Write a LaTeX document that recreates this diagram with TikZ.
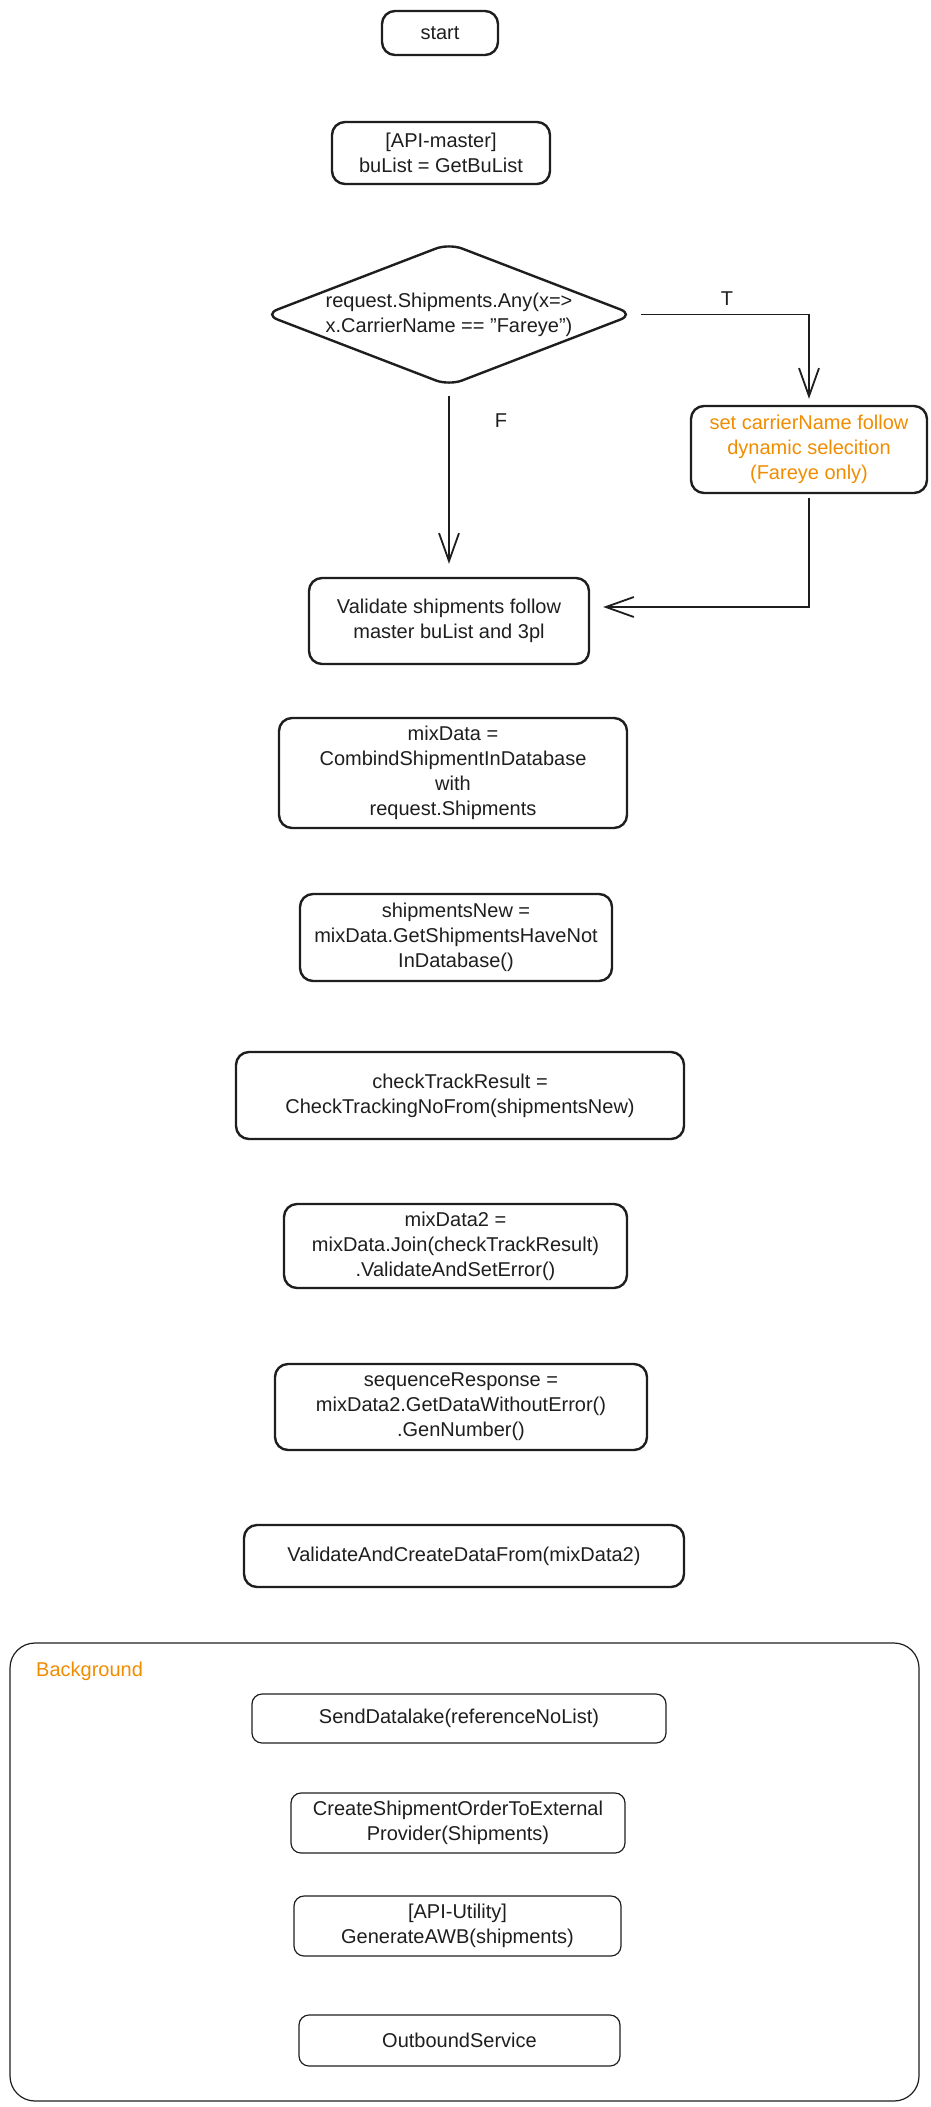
\documentclass[tikz,border=0pt]{standalone}
\usepackage{fontspec}
\setmainfont{Liberation Sans}
\usetikzlibrary{arrows.meta,shapes.geometric}
\definecolor{ink}{HTML}{1E1E1E}
\definecolor{orng}{HTML}{F08C00}
\tikzset{
  box/.style={draw=ink, line width=2.4pt, rounded corners=13pt, align=center, inner sep=0pt, text=ink, font=\fontsize{20}{25}\selectfont},
  thinbox/.style={box, line width=1.2pt, rounded corners=10pt},
  conn/.style={draw=ink, line width=1.8pt, -{Straight Barb[length=28pt,width=20pt]}},
  lbl/.style={text=ink, font=\fontsize{20}{25}\selectfont, inner sep=0pt}
}
\begin{document}
\begin{tikzpicture}[x=1pt,y=-1pt]
\useasboundingbox (0,0) rectangle (931,2107);

\node[box, minimum width=116pt, minimum height=44pt] (start) at (440,33) {start};
\node[box, minimum width=218pt, minimum height=62pt] (api) at (441,153) {[API-master]\\buList = GetBuList};

\node[draw=ink, line width=2.4pt, diamond, minimum width=370pt, minimum height=143pt, inner sep=0pt, rounded corners=14pt] (d) at (449,314.5) {};
\node[lbl, align=center] (dt) at (d) {request.Shipments.Any(x=>\\x.CarrierName == "Fareye")};

\node[box, text=orng, minimum width=236pt, minimum height=87pt] (o) at (809,449.5) {set carrierName follow\\dynamic selecition\\(Fareye only)};
\node[box, minimum width=280pt, minimum height=86pt] (v) at (449,621) {Validate shipments follow\\master buList and 3pl};

\draw[conn] ([xshift=6pt]d.east) -| ([yshift=6pt]o.north);
\draw[conn] ([yshift=-9pt]d.south) -- ([yshift=13pt]v.north);
\draw[conn] ([yshift=-4pt]o.south) |- ([xshift=13pt,yshift=14pt]v.east);
\node[lbl] (tl) at (727,299) {T};
\node[lbl] (fl) at (501,421) {F};

\node[box, minimum width=348pt, minimum height=110pt] (mix) at (453,773) {mixData =\\CombindShipmentInDatabase\\with\\request.Shipments};
\node[box, minimum width=312pt, minimum height=87pt] (sn) at (456,937.5) {shipmentsNew =\\mixData.GetShipmentsHaveNot\\InDatabase()};
\node[box, minimum width=448pt, minimum height=87pt] (ct) at (460,1095.5) {checkTrackResult =\\CheckTrackingNoFrom(shipmentsNew)};
\node[box, minimum width=343pt, minimum height=84pt] (m2) at (455.5,1246) {mixData2 =\\mixData.Join(checkTrackResult)\\.ValidateAndSetError()};
\node[box, minimum width=372pt, minimum height=86pt] (sr) at (461,1407) {sequenceResponse =\\mixData2.GetDataWithoutError()\\.GenNumber()};
\node[box, minimum width=440pt, minimum height=62pt] (vc) at (464,1556) {ValidateAndCreateDataFrom(mixData2)};

\node[draw=ink, line width=1.2pt, rounded corners=25pt, minimum width=909pt, minimum height=458pt, inner sep=0pt] (bg) at (464.5,1872) {};
\node[lbl, text=orng, anchor=west] (bgl) at (36,1671) {Background};

\node[thinbox, minimum width=414pt, minimum height=49pt] (sd) at (459,1718.5) {SendDatalake(referenceNoList)};
\node[thinbox, minimum width=334pt, minimum height=60pt] (cs) at (458,1823) {CreateShipmentOrderToExternal\\Provider(Shipments)};
\node[thinbox, minimum width=327pt, minimum height=60pt] (au) at (457.5,1926) {[API-Utility]\\GenerateAWB(shipments)};
\node[thinbox, minimum width=321pt, minimum height=51pt] (ob) at (459.5,2040.5) {OutboundService};
\end{tikzpicture}
\end{document}
